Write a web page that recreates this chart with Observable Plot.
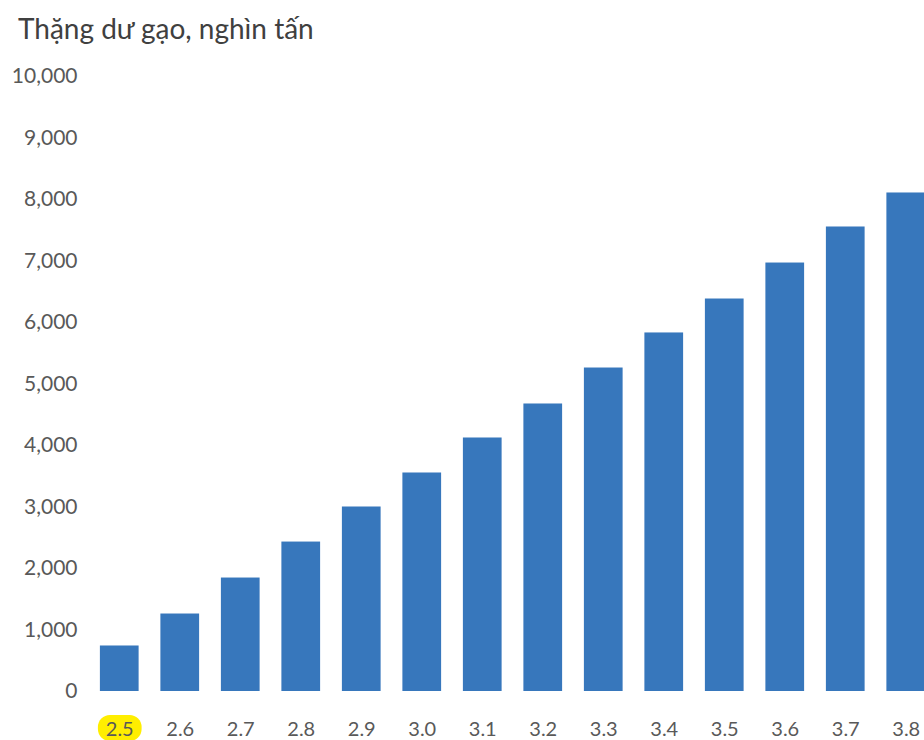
<!DOCTYPE html>
<html>
<head>
<meta charset="utf-8">
<script src="https://cdn.jsdelivr.net/npm/d3@7"></script>
<script src="https://cdn.jsdelivr.net/npm/@observablehq/plot@0.6"></script>
<style>
  html, body { margin: 0; padding: 0; background: #fff; overflow: hidden; }
  #wrap { width: 924px; height: 740px; overflow: hidden; font-family: Lato, "Open Sans", sans-serif; }
  #title { height: 50px; box-sizing: border-box; padding: 12px 0 0 18px; font-size: 28px; line-height: 32px; color: #404040; white-space: nowrap; }
  #chart svg { display: block; max-width: none; }
</style>
</head>
<body>
<div id="wrap">
  <div id="title">Thặng dư gạo, nghìn tấn</div>
  <div id="chart"></div>
</div>
<script>
// Rice surplus (thousand tonnes) by scenario value
const categories = ["2.5", "2.6", "2.7", "2.8", "2.9", "3.0", "3.1", "3.2", "3.3", "3.4", "3.5", "3.6", "3.7", "3.8"];
const surplus = [740, 1260, 1845, 2430, 3000, 3553, 4122, 4675, 5260, 5830, 6382, 6967, 7553, 8106];
const yTicks = [0, 1000, 2000, 3000, 4000, 5000, 6000, 7000, 8000, 9000, 10000];
const highlighted = ["2.5"];

const data = categories.map((c, i) => ({category: c, value: surplus[i]}));

const chart = Plot.plot({
  width: 940,
  height: 690,
  marginTop: 26,
  marginBottom: 49,
  marginLeft: 89,
  marginRight: 4,
  style: {fontFamily: "Lato, 'Open Sans', sans-serif", fontSize: "21px", color: "#595959", background: "#fff"},
  x: {domain: categories, paddingInner: 0.36, paddingOuter: 0.18, round: false, label: null},
  y: {domain: [0, 10000], label: null},
  marks: [
    // yellow marker behind the highlighted category label
    Plot.barY(highlighted, {
      x: d => d, y1: 0, y2: 0,
      fill: "#ffee00", rx: 12,
      insetTop: 24, insetBottom: -50, insetLeft: -2, insetRight: -3
    }),
    Plot.barY(data, {x: "category", y: "value", fill: "#3777bc"}),
    Plot.axisY({ticks: yTicks, tickSize: 0, tickPadding: 12, tickFormat: d3.format(","), label: null}),
    Plot.axisX({tickSize: 0, tickPadding: 30, fontSize: 20, label: null})
  ]
});

document.getElementById("chart").appendChild(chart);
</script>
</body>
</html>
